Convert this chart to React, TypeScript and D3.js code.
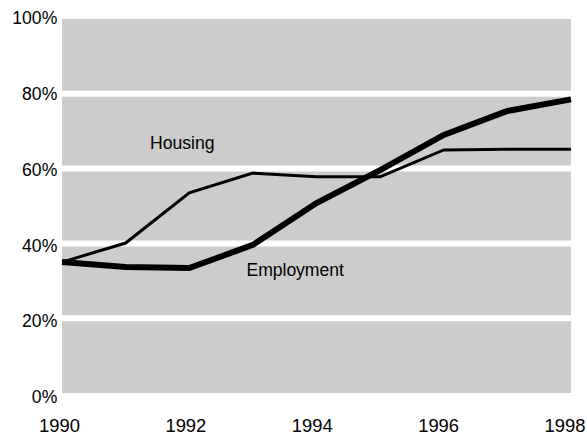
import { useRef, useEffect } from "react";
import * as d3 from "d3";

const years = [1990, 1991, 1992, 1993, 1994, 1995, 1996, 1997, 1998];
const employment = [35, 33.7, 33.4, 39.6, 50.8, 59.6, 69, 75.4, 78.5];
const housing = [35, 40.1, 53.5, 58.8, 57.8, 57.8, 65, 65.2, 65.2];
const yTicks = [0, 20, 40, 60, 80, 100];
const xTicks = [1990, 1992, 1994, 1996, 1998];

export default function App() {
  const svgRef = useRef<SVGSVGElement>(null);
  const width = 587;
  const height = 437;

  useEffect(() => {
    if (!svgRef.current) return;
    const svg = d3.select(svgRef.current);
    svg.selectAll("*").remove();

    const left = 62, right = 571, top = 19, bottom = 393;
    const x = d3.scaleLinear().domain([1990, 1998]).range([left, right]);
    const y = d3.scaleLinear().domain([0, 100]).range([bottom, top]);
    // tick labels sit on a slightly wider spread than the plot itself
    const xLab = d3.scaleLinear().domain([1990, 1998]).range([59.5, 565]);
    const yLab = d3.scaleLinear().domain([0, 100]).range([403, 24.3]);
    const font = "Liberation Sans, Arial, sans-serif";

    svg.append("rect")
      .attr("x", left).attr("y", top)
      .attr("width", right - left).attr("height", bottom - top)
      .attr("fill", "#cccccc");

    // white gridlines
    svg.selectAll("line.grid")
      .data(yTicks.filter((t) => t > 0 && t < 100))
      .enter().append("line")
      .attr("x1", left).attr("x2", right)
      .attr("y1", (d) => y(d)).attr("y2", (d) => y(d))
      .attr("stroke", "#ffffff").attr("stroke-width", 6);

    svg.selectAll("text.ylab")
      .data(yTicks)
      .enter().append("text")
      .attr("x", 57.3).attr("y", (d) => yLab(d))
      .attr("text-anchor", "end")
      .attr("font-family", font).attr("font-size", 17.6)
      .text((d) => `${d}%`);

    svg.selectAll("text.xlab")
      .data(xTicks)
      .enter().append("text")
      .attr("x", (d) => xLab(d)).attr("y", 432)
      .attr("text-anchor", "middle")
      .attr("font-family", font).attr("font-size", 18.4)
      .text((d) => d);

    const line = (vals: number[]) =>
      d3.line<number>().x((_, i) => x(years[i])).y((d) => y(d))(vals);

    svg.append("path").attr("d", line(housing))
      .attr("fill", "none").attr("stroke", "#000").attr("stroke-width", 3)
      .attr("stroke-linejoin", "miter");
    svg.append("path").attr("d", line(employment))
      .attr("fill", "none").attr("stroke", "#000").attr("stroke-width", 6)
      .attr("stroke-linejoin", "miter");

    svg.append("text").attr("x", 150).attr("y", 149.3)
      .attr("font-family", font).attr("font-size", 17.6).text("Housing");
    svg.append("text").attr("x", 246.5).attr("y", 275.7)
      .attr("font-family", font).attr("font-size", 17.6)
      .attr("textLength", 97.3).text("Employment");
  }, []);

  return (
    <svg ref={svgRef} width={width} height={height}
      style={{ position: "absolute", left: 0, top: 0 }} />
  );
}
